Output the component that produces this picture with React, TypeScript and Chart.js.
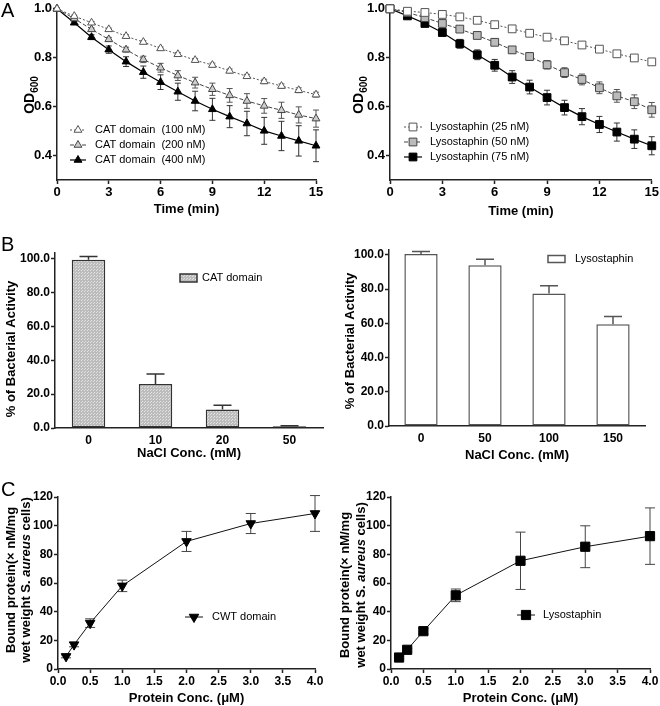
import React, { useEffect, useRef } from "react";
import { Chart, registerables } from "chart.js";
import { drawPoint } from "chart.js/helpers";

Chart.register(...registerables);
const FAMILY = "'Liberation Sans', Arial, sans-serif";
Chart.defaults.font.family = FAMILY;
Chart.defaults.color = "#000";

// ---------- Panel A ----------
const TIME = [0, 1, 2, 3, 4, 5, 6, 7, 8, 9, 10, 11, 12, 13, 14, 15];
const A_X_TICKS = [0, 3, 6, 9, 12, 15];
const A_Y_TICKS = [0.4, 0.6, 0.8, 1.0];

const CAT_100 = [1.0, 0.97, 0.943, 0.916, 0.888, 0.864, 0.838, 0.814, 0.79, 0.77, 0.746, 0.724, 0.703, 0.684, 0.667, 0.649];
const CAT_100_ERR = [0, 0.004, 0.005, 0.005, 0.006, 0.006, 0.006, 0.007, 0.007, 0.008, 0.008, 0.008, 0.009, 0.009, 0.01, 0.01];
const CAT_200 = [1.0, 0.96, 0.916, 0.875, 0.833, 0.793, 0.759, 0.727, 0.698, 0.671, 0.646, 0.623, 0.603, 0.585, 0.566, 0.551];
const CAT_200_ERR = [0, 0.005, 0.006, 0.008, 0.01, 0.013, 0.018, 0.02, 0.022, 0.025, 0.028, 0.03, 0.03, 0.033, 0.033, 0.035];
const CAT_400 = [1.0, 0.943, 0.884, 0.833, 0.784, 0.741, 0.7, 0.661, 0.623, 0.589, 0.559, 0.531, 0.501, 0.48, 0.46, 0.44];
const CAT_400_ERR = [0, 0.006, 0.01, 0.015, 0.02, 0.025, 0.03, 0.035, 0.04, 0.045, 0.045, 0.05, 0.055, 0.06, 0.062, 0.065];

const LYS_25 = [1.0, 0.99, 0.985, 0.977, 0.967, 0.953, 0.935, 0.918, 0.9, 0.884, 0.869, 0.852, 0.835, 0.816, 0.799, 0.783];
const LYS_25_ERR = [0, 0.004, 0.005, 0.005, 0.005, 0.006, 0.006, 0.006, 0.007, 0.007, 0.008, 0.008, 0.008, 0.009, 0.01, 0.011];
const LYS_50 = [1.0, 0.985, 0.964, 0.94, 0.917, 0.891, 0.863, 0.832, 0.805, 0.771, 0.739, 0.711, 0.677, 0.644, 0.62, 0.587];
const LYS_50_ERR = [0, 0.005, 0.006, 0.008, 0.01, 0.01, 0.012, 0.013, 0.015, 0.017, 0.02, 0.022, 0.024, 0.026, 0.028, 0.03];
const LYS_75 = [1.0, 0.971, 0.94, 0.903, 0.857, 0.812, 0.769, 0.721, 0.68, 0.637, 0.596, 0.559, 0.527, 0.496, 0.467, 0.44];
const LYS_75_ERR = [0, 0.006, 0.008, 0.013, 0.018, 0.02, 0.024, 0.026, 0.028, 0.03, 0.03, 0.033, 0.033, 0.037, 0.038, 0.037];

// ---------- Panel B ----------
const B_Y_TICKS = [0, 20, 40, 60, 80, 100];
const NACL_CAT = ["0", "10", "20", "50"];
const CAT_ACT = [99.5, 26, 11, 1];
const CAT_ACT_ERR = [2, 6, 2.5, 0.3];
const NACL_LYS = ["0", "50", "100", "150"];
const LYS_ACT = [100.5, 94, 77.5, 59.5];
const LYS_ACT_ERR = [1.5, 3.5, 4.5, 4.5];

// ---------- Panel C ----------
const C_X_TICKS = [0, 0.5, 1, 1.5, 2, 2.5, 3, 3.5, 4];
const C_Y_TICKS = [0, 20, 40, 60, 80, 100, 120];
const PROT_CONC = [0.125, 0.25, 0.5, 1, 2, 3, 4];
const CWT_BOUND = [8.8, 17, 32, 58, 89, 101.5, 108.5];
const CWT_BOUND_ERR = [1, 1.5, 3, 4, 7, 7, 12.5];
const LYSO_BOUND = [8, 13.4, 26.4, 51.4, 75.5, 85.3, 92.7];
const LYSO_BOUND_ERR = [1, 1, 2, 4.4, 20, 14.6, 19.7];

const AXIS_COLOR = "#222";

// ---------- plugins ----------
const errorBarPlugin = {
  id: "errorBars",
  beforeDatasetsDraw(chart: any) {
    const ctx = chart.ctx;
    chart.data.datasets.forEach((ds: any, i: number) => {
      if (!ds.errors) return;
      const meta = chart.getDatasetMeta(i);
      const ys = chart.scales[meta.yAxisID];
      ctx.save();
      ctx.strokeStyle = ds.errorColor || "#333";
      ctx.lineWidth = ds.errorWidth || 1;
      meta.data.forEach((el: any, j: number) => {
        const raw = ds.data[j];
        const v = typeof raw === "number" ? raw : raw.y;
        const e = ds.errors[j];
        if (!e) return;
        const x = el.x;
        const yTop = ys.getPixelForValue(v + e);
        const yBot = ds.errorUpOnly ? ys.getPixelForValue(v) : ys.getPixelForValue(v - e);
        const cap = ds.errorCap || 3;
        ctx.beginPath();
        ctx.moveTo(x, yTop);
        ctx.lineTo(x, yBot);
        ctx.moveTo(x - cap, yTop);
        ctx.lineTo(x + cap, yTop);
        if (!ds.errorUpOnly) {
          ctx.moveTo(x - cap, yBot);
          ctx.lineTo(x + cap, yBot);
        }
        ctx.stroke();
      });
      ctx.restore();
    });
  },
};

function makeLegend(o: { x: number; y: number; dy: number; lineLen: number; textX: number; box?: boolean; boxW?: number; boxH?: number }) {
  return {
    id: "inLegend",
    afterDraw(chart: any) {
      const ctx = chart.ctx;
      chart.data.datasets.forEach((ds: any, i: number) => {
        const y = o.y + i * o.dy;
        ctx.save();
        if (o.box) {
          ctx.fillStyle = ds.backgroundColor;
          ctx.strokeStyle = ds.borderColor;
          ctx.lineWidth = ds.borderWidth;
          ctx.fillRect(o.x, y - o.boxH! / 2, o.boxW!, o.boxH!);
          ctx.strokeRect(o.x, y - o.boxH! / 2, o.boxW!, o.boxH!);
        } else {
          ctx.strokeStyle = ds.borderColor;
          ctx.lineWidth = ds.borderWidth;
          ctx.setLineDash(ds.borderDash || []);
          ctx.beginPath();
          ctx.moveTo(o.x, y);
          ctx.lineTo(o.x + o.lineLen, y);
          ctx.stroke();
          ctx.setLineDash([]);
          ctx.fillStyle = ds.pointBackgroundColor;
          ctx.strokeStyle = ds.pointBorderColor;
          ctx.lineWidth = ds.pointBorderWidth || 1;
          drawPoint(ctx, { pointStyle: ds.pointStyle, rotation: ds.pointRotation || 0, radius: ds.pointRadius, borderWidth: ds.pointBorderWidth || 1 } as any, o.x + o.lineLen / 2, y);
        }
        ctx.fillStyle = "#000";
        ctx.font = `11px ${FAMILY}`;
        ctx.textBaseline = "middle";
        ctx.textAlign = "left";
        ctx.fillText(ds.label, o.textX, y);
        ctx.restore();
      });
    },
  };
}

type Part = { text: string; italic?: boolean; sub?: boolean };
function makeYTitle(lines: Part[][], xs: number[], cy: number, size = 13) {
  return {
    id: "yTitle",
    afterDraw(chart: any) {
      const ctx = chart.ctx;
      const fontFor = (p: Part) => `${p.italic ? "italic " : ""}bold ${p.sub ? Math.round(size * 0.7) : size}px ${FAMILY}`;
      lines.forEach((line, li) => {
        ctx.save();
        ctx.translate(xs[li], cy);
        ctx.rotate(-Math.PI / 2);
        let total = 0;
        line.forEach((p) => {
          ctx.font = fontFor(p);
          total += ctx.measureText(p.text).width;
        });
        let cx = -total / 2;
        ctx.textBaseline = "alphabetic";
        ctx.textAlign = "left";
        ctx.fillStyle = "#000";
        const base = size * 0.36;
        line.forEach((p) => {
          ctx.font = fontFor(p);
          ctx.fillText(p.text, cx, base + (p.sub ? size * 0.3 : 0));
          cx += ctx.measureText(p.text).width;
        });
        ctx.restore();
      });
    },
  };
}

// ---------- scale helpers ----------
function yLinear(min: number, max: number, ticks: number[], fmt: (v: number) => string, width: number, fontSize: number) {
  return {
    type: "linear",
    min,
    max,
    afterBuildTicks: (s: any) => {
      s.ticks = ticks.map((v) => ({ value: v }));
    },
    afterFit: (s: any) => {
      s.width = width;
    },
    border: { display: true, color: AXIS_COLOR, width: 1.5 },
    grid: { display: true, drawOnChartArea: false, drawTicks: true, tickLength: 4, tickWidth: 1.5, color: AXIS_COLOR, tickColor: AXIS_COLOR },
    ticks: { font: { size: fontSize, weight: "bold" }, color: "#000", padding: 1, callback: (v: any) => fmt(Number(v)) },
  };
}

function xLinear(min: number, max: number, ticks: number[], fmt: (v: number) => string, height: number, fontSize: number, title: string, titlePad: number) {
  return {
    type: "linear",
    min,
    max,
    afterBuildTicks: (s: any) => {
      s.ticks = ticks.map((v) => ({ value: v }));
    },
    afterFit: (s: any) => {
      s.height = height;
    },
    border: { display: true, color: AXIS_COLOR, width: 1.5 },
    grid: { display: true, drawOnChartArea: false, drawTicks: true, tickLength: 4, tickWidth: 1.5, color: AXIS_COLOR, tickColor: AXIS_COLOR },
    ticks: { font: { size: fontSize, weight: "bold" }, color: "#000", padding: 1, maxRotation: 0, autoSkip: false, callback: (v: any) => fmt(Number(v)) },
    title: { display: true, text: title, color: "#000", font: { size: 13, weight: "bold" }, padding: { top: 0, bottom: titlePad } },
  };
}

function xCategory(height: number, fontSize: number, title: string, titlePad: number) {
  return {
    type: "category",
    afterFit: (s: any) => {
      s.height = height;
    },
    border: { display: true, color: AXIS_COLOR, width: 1.5 },
    grid: { display: false, drawTicks: true, tickLength: 4 },
    ticks: { font: { size: fontSize, weight: "bold" }, color: "#000", padding: 1, maxRotation: 0, autoSkip: false },
    title: { display: true, text: title, color: "#000", font: { size: 13, weight: "bold" }, padding: { top: 0, bottom: titlePad } },
  };
}

const baseOptions = (padding: any, scales: any) => ({
  responsive: false,
  animation: false,
  devicePixelRatio: 1,
  layout: { padding },
  plugins: { legend: { display: false }, tooltip: { enabled: false } },
  scales,
});

const pts = (xs: number[], ys: number[]) => xs.map((x, i) => ({ x, y: ys[i] }));

function lineDs(label: string, xs: number[], ys: number[], errs: number[], st: any) {
  return {
    label,
    data: pts(xs, ys),
    errors: errs,
    tension: 0,
    clip: false,
    borderWidth: 1,
    pointBorderWidth: 1,
    ...st,
  };
}

const fmt1 = (v: number) => v.toFixed(1);
const fmt0 = (v: number) => String(Math.round(v));

// ---------- chart configs ----------
function makeAL() {
  return {
    type: "line",
    data: {
      datasets: [
        lineDs("CAT domain  (100 nM)", TIME, CAT_100, CAT_100_ERR, { borderColor: "#555", borderDash: [2, 2], pointStyle: "triangle", pointRadius: 4.5, pointBackgroundColor: "#fff", pointBorderColor: "#555", errorColor: "#666", errorCap: 3 }),
        lineDs("CAT domain  (200 nM)", TIME, CAT_200, CAT_200_ERR, { borderColor: "#444", borderDash: [4, 2], pointStyle: "triangle", pointRadius: 4.5, pointBackgroundColor: "#ccc", pointBorderColor: "#444", errorColor: "#555", errorCap: 3 }),
        lineDs("CAT domain  (400 nM)", TIME, CAT_400, CAT_400_ERR, { borderColor: "#000", borderWidth: 1.2, pointStyle: "triangle", pointRadius: 4.5, pointBackgroundColor: "#000", pointBorderColor: "#000", errorColor: "#333", errorCap: 3 }),
      ],
    },
    options: baseOptions({ left: 0, right: 14, top: 6, bottom: 0 }, {
      x: xLinear(0, 15, A_X_TICKS, fmt0, 48, 13, "Time (min)", 11),
      y: yLinear(0.3, 1.0, A_Y_TICKS, fmt1, 57, 13),
    }),
    plugins: [errorBarPlugin, makeLegend({ x: 70, y: 130, dy: 15, lineLen: 16, textX: 95 }), makeYTitle([[{ text: "OD" }, { text: "600", sub: true }]], [29], 95, 14)],
  };
}

function makeAR() {
  return {
    type: "line",
    data: {
      datasets: [
        lineDs("Lysostaphin (25 nM)", TIME, LYS_25, LYS_25_ERR, { borderColor: "#555", borderDash: [2, 2], pointStyle: "rect", pointRadius: 5.5, pointBackgroundColor: "#fff", pointBorderColor: "#555", errorColor: "#666", errorCap: 3 }),
        lineDs("Lysostaphin (50 nM)", TIME, LYS_50, LYS_50_ERR, { borderColor: "#444", borderDash: [4, 2], pointStyle: "rect", pointRadius: 5.5, pointBackgroundColor: "#bbb", pointBorderColor: "#444", errorColor: "#555", errorCap: 3 }),
        lineDs("Lysostaphin (75 nM)", TIME, LYS_75, LYS_75_ERR, { borderColor: "#000", borderWidth: 1.2, pointStyle: "rect", pointRadius: 5.5, pointBackgroundColor: "#000", pointBorderColor: "#000", errorColor: "#333", errorCap: 3 }),
      ],
    },
    options: baseOptions({ left: 0, right: 7, top: 6, bottom: 0 }, {
      x: xLinear(0, 15, A_X_TICKS, fmt0, 48, 13, "Time (min)", 9),
      y: yLinear(0.3, 1.0, A_Y_TICKS, fmt1, 60, 13),
    }),
    plugins: [errorBarPlugin, makeLegend({ x: 74, y: 127, dy: 15, lineLen: 18, textX: 100 }), makeYTitle([[{ text: "OD" }, { text: "600", sub: true }]], [28], 95, 14)],
  };
}

function stipple() {
  const c = document.createElement("canvas");
  c.width = 3;
  c.height = 3;
  const g = c.getContext("2d")!;
  g.fillStyle = "#bcbcbc";
  g.fillRect(0, 0, 3, 3);
  g.fillStyle = "#e2e2e2";
  g.fillRect(0, 0, 1, 1);
  g.fillRect(1, 2, 1, 1);
  return g.createPattern(c, "repeat");
}

function makeBL() {
  return {
    type: "bar",
    data: {
      labels: NACL_CAT,
      datasets: [
        { label: "CAT domain", data: CAT_ACT, errors: CAT_ACT_ERR, errorUpOnly: true, errorCap: 9, errorColor: "#333", errorWidth: 1.5, backgroundColor: stipple(), borderColor: "#333", borderWidth: 1.5, borderSkipped: false, barPercentage: 0.5, categoryPercentage: 1 },
      ],
    },
    options: baseOptions({ left: 0, right: 7, top: 25, bottom: 0 }, {
      x: xCategory(42, 12, "NaCl Conc. (mM)", 9),
      y: yLinear(0, 103.5, B_Y_TICKS, fmt1, 55, 12),
    }),
    plugins: [errorBarPlugin, makeLegend({ x: 180, y: 50, dy: 15, lineLen: 0, textX: 202, box: true, boxW: 17, boxH: 8 }), makeYTitle([[{ text: "% of Bacterial Activity" }]], [10], 121, 13)],
  };
}

function makeBR() {
  return {
    type: "bar",
    data: {
      labels: NACL_LYS,
      datasets: [
        { label: "Lysostaphin", data: LYS_ACT, errors: LYS_ACT_ERR, errorUpOnly: true, errorCap: 9, errorColor: "#555", errorWidth: 1.5, backgroundColor: "#fff", borderColor: "#555", borderWidth: 1.5, borderSkipped: false, barPercentage: 0.52, categoryPercentage: 1 },
      ],
    },
    options: baseOptions({ left: 0, right: 15, top: 22, bottom: 0 }, {
      x: xCategory(44, 12, "NaCl Conc. (mM)", 7),
      y: yLinear(0, 102.9, B_Y_TICKS, fmt1, 59, 12),
    }),
    plugins: [errorBarPlugin, makeLegend({ x: 218, y: 31, dy: 15, lineLen: 0, textX: 245, box: true, boxW: 17, boxH: 7 }), makeYTitle([[{ text: "% of Bacterial Activity" }]], [19], 113, 13)],
  };
}

const C_TITLE: Part[][] = [
  [{ text: "Bound protein(× nM/mg" }],
  [{ text: "wet weight " }, { text: "S. " }, { text: "aureus", italic: true }, { text: " cells)" }],
];

function makeCL() {
  return {
    type: "line",
    data: {
      datasets: [
        lineDs("CWT domain", PROT_CONC, CWT_BOUND, CWT_BOUND_ERR, { borderColor: "#111", pointStyle: "triangle", pointRotation: 180, pointRadius: 5.5, pointBackgroundColor: "#000", pointBorderColor: "#000", errorColor: "#444", errorCap: 5 }),
      ],
    },
    options: baseOptions({ left: 0, right: 15, top: 27, bottom: 0 }, {
      x: xLinear(0, 4, C_X_TICKS, fmt1, 37, 12, "Protein Conc. (μM)", 0),
      y: yLinear(0, 120, C_Y_TICKS, fmt0, 58, 12),
    }),
    plugins: [errorBarPlugin, makeLegend({ x: 185, y: 147, dy: 15, lineLen: 18, textX: 212 }), makeYTitle(C_TITLE, [10, 25], 110, 13)],
  };
}

function makeCR() {
  return {
    type: "line",
    data: {
      datasets: [
        lineDs("Lysostaphin", PROT_CONC, LYSO_BOUND, LYSO_BOUND_ERR, { borderColor: "#111", pointStyle: "rect", pointRadius: 6.5, pointBackgroundColor: "#000", pointBorderColor: "#000", errorColor: "#444", errorCap: 5 }),
      ],
    },
    options: baseOptions({ left: 0, right: 10, top: 27, bottom: 0 }, {
      x: xLinear(0, 4, C_X_TICKS, fmt1, 37, 12, "Protein Conc. (μM)", 0),
      y: yLinear(0, 120, C_Y_TICKS, fmt0, 61, 12),
    }),
    plugins: [errorBarPlugin, makeLegend({ x: 187, y: 145, dy: 15, lineLen: 18, textX: 213 }), makeYTitle(C_TITLE, [14, 30], 115, 13)],
  };
}

// ---------- components ----------
function Panel({ left, top, width, height, make }: { left: number; top: number; width: number; height: number; make: () => any }) {
  const ref = useRef<HTMLCanvasElement>(null);
  useEffect(() => {
    const chart = new Chart(ref.current as HTMLCanvasElement, make());
    return () => chart.destroy();
  }, []);
  return <canvas ref={ref} width={width} height={height} style={{ position: "absolute", left, top, width, height }} />;
}

const letterStyle = (left: number, top: number): React.CSSProperties => ({
  position: "absolute",
  left,
  top,
  fontFamily: "'Liberation Sans Narrow', 'Liberation Sans', Arial, sans-serif",
  fontSize: 20,
  lineHeight: 1,
  color: "#000",
});

export default function App() {
  return (
    <div style={{ position: "fixed", left: 0, top: 0, width: 660, height: 706, background: "#fff", overflow: "hidden" }}>
      <Panel left={0} top={0} width={330} height={228} make={makeAL} />
      <Panel left={330} top={0} width={330} height={228} make={makeAR} />
      <Panel left={0} top={228} width={330} height={242} make={makeBL} />
      <Panel left={330} top={228} width={330} height={242} make={makeBR} />
      <Panel left={0} top={470} width={330} height={236} make={makeCL} />
      <Panel left={330} top={470} width={330} height={236} make={makeCR} />
      <div style={letterStyle(1, 0)}>A</div>
      <div style={letterStyle(1, 234)}>B</div>
      <div style={letterStyle(1, 479)}>C</div>
    </div>
  );
}
